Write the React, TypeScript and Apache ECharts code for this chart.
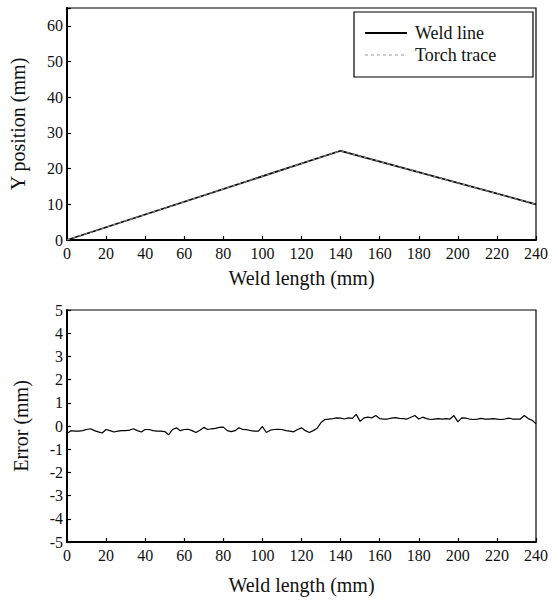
import React, { useEffect, useRef } from "react";
import * as echarts from "echarts";

// Top panel: weld line and torch trace (Y position vs weld length)
const weldLength = [0, 140, 240];
const weldLineY = [0, 25, 10];
const torchTraceY = [0, 25, 10];

// Bottom panel: tracking error vs weld length
const errorLength = [
  0, 2, 4, 6, 8, 10, 12, 14, 16, 18, 20, 22, 24, 26, 28, 30, 32, 34, 36, 38,
  40, 42, 44, 46, 48, 50, 52, 54, 56, 58, 60, 62, 64, 66, 68, 70, 72, 74, 76, 78,
  80, 82, 84, 86, 88, 90, 92, 94, 96, 98, 100, 102, 104, 106, 108, 110, 112, 114, 116, 118,
  120, 122, 124, 126, 128, 130, 132, 134, 136, 138, 140, 142, 144, 146, 148, 150, 152, 154, 156, 158,
  160, 162, 164, 166, 168, 170, 172, 174, 176, 178, 180, 182, 184, 186, 188, 190, 192, 194, 196, 198,
  200, 202, 204, 206, 208, 210, 212, 214, 216, 218, 220, 222, 224, 226, 228, 230, 232, 234, 236, 238, 240,
];
const errorValues = [
  -0.32, -0.2, -0.22, -0.22, -0.2, -0.15, -0.12, -0.2, -0.25, -0.3, -0.15, -0.2, -0.26, -0.22, -0.2, -0.2, -0.18, -0.12, -0.2, -0.26,
  -0.15, -0.15, -0.2, -0.22, -0.22, -0.24, -0.38, -0.15, -0.08, -0.2, -0.15, -0.14, -0.2, -0.28, -0.18, -0.06, -0.15, -0.12, -0.1, -0.06,
  -0.05, -0.2, -0.24, -0.2, -0.08, -0.15, -0.16, -0.2, -0.22, -0.22, -0.02, -0.28, -0.18, -0.15, -0.14, -0.15, -0.2, -0.22, -0.25, -0.15,
  -0.08, -0.2, -0.28, -0.2, -0.1, 0.15, 0.28, 0.3, 0.32, 0.35, 0.34, 0.3, 0.35, 0.33, 0.5, 0.2, 0.35, 0.38, 0.35, 0.45,
  0.32, 0.3, 0.3, 0.34, 0.36, 0.33, 0.32, 0.3, 0.38, 0.45, 0.3, 0.38, 0.32, 0.28, 0.3, 0.32, 0.3, 0.32, 0.3, 0.45,
  0.18, 0.35, 0.34, 0.3, 0.28, 0.3, 0.33, 0.3, 0.3, 0.32, 0.3, 0.28, 0.3, 0.34, 0.3, 0.3, 0.3, 0.45, 0.32, 0.25, 0.1,
];

const seriesNames = ["Weld line", "Torch trace"];

const SERIF = "Liberation Serif";
const tickFont = { fontFamily: SERIF, fontSize: 16, color: "#111" };
const nameFont = { fontFamily: SERIF, fontSize: 20, color: "#111" };

export default function App() {
  const ref = useRef<HTMLDivElement>(null);
  useEffect(() => {
    if (!ref.current) return;
    const chart = echarts.init(ref.current, undefined, { renderer: "svg" });
    const axisLine = { show: true, onZero: false, lineStyle: { color: "#000", width: 2 } };
    const axisTick = { show: true, inside: true, length: 4, lineStyle: { color: "#000", width: 1.2 } };
    const pair = (xs: number[], ys: number[]) => xs.map((x, i) => [x, ys[i]]);
    const weldStyle = { color: "#000", width: 1.8 };
    const torchStyle = { color: "#999", width: 1, type: [3, 3] };
    chart.setOption({
      animation: false,
      backgroundColor: "#fff",
      textStyle: { fontFamily: SERIF },
      grid: [
        { left: 67, right: 22, top: 8, height: 232, show: true, borderColor: "#000", borderWidth: 1.2 },
        { left: 67, right: 22, top: 310, bottom: 59, show: true, borderColor: "#000", borderWidth: 1.2 },
      ],
      graphic: [
        {
          type: "rect",
          shape: { x: 354, y: 12, width: 179, height: 65 },
          style: { fill: "#fff", stroke: "#000", lineWidth: 1.2 },
          z: 10,
        },
        {
          type: "line", z: 11,
          shape: { x1: 365, y1: 33, x2: 407, y2: 33 },
          style: { stroke: weldStyle.color, lineWidth: weldStyle.width },
        },
        {
          type: "text", z: 11, x: 415, y: 33,
          style: { text: seriesNames[0], fontFamily: SERIF, fontSize: 18, fill: "#111", verticalAlign: "middle" },
        },
        {
          type: "line", z: 11,
          shape: { x1: 365, y1: 55, x2: 407, y2: 55 },
          style: { stroke: torchStyle.color, lineWidth: torchStyle.width, lineDash: [3, 3] },
        },
        {
          type: "text", z: 11, x: 415, y: 55,
          style: { text: seriesNames[1], fontFamily: SERIF, fontSize: 18, fill: "#111", verticalAlign: "middle" },
        },
      ],
      xAxis: [
        {
          type: "value", gridIndex: 0, min: 0, max: 240, interval: 20,
          axisLine, axisTick, splitLine: { show: false },
          axisLabel: { ...tickFont, margin: 5 },
          name: "Weld length (mm)", nameLocation: "middle", nameGap: 28, nameTextStyle: nameFont,
        },
        {
          type: "value", gridIndex: 1, min: 0, max: 240, interval: 20,
          axisLine, axisTick, splitLine: { show: false },
          axisLabel: { ...tickFont, margin: 5 },
          name: "Weld length (mm)", nameLocation: "middle", nameGap: 33, nameTextStyle: nameFont,
        },
      ],
      yAxis: [
        {
          type: "value", gridIndex: 0, min: 0, max: 65, interval: 10,
          axisLine, axisTick, splitLine: { show: false },
          axisLabel: { ...tickFont, margin: 4, formatter: (v: number) => (v % 10 === 0 ? String(v) : "") },
          name: "Y position (mm)", nameLocation: "middle", nameGap: 39, nameTextStyle: nameFont,
        },
        {
          type: "value", gridIndex: 1, min: -5, max: 5, interval: 1,
          axisLine, axisTick, splitLine: { show: false },
          axisLabel: { ...tickFont, margin: 4 },
          name: "Error (mm)", nameLocation: "middle", nameGap: 36, nameTextStyle: nameFont,
        },
      ],
      series: [
        {
          name: seriesNames[0], type: "line", xAxisIndex: 0, yAxisIndex: 0,
          data: pair(weldLength, weldLineY), showSymbol: false, symbol: "none",
          lineStyle: weldStyle, itemStyle: { color: "#000" },
        },
        {
          name: seriesNames[1], type: "line", xAxisIndex: 0, yAxisIndex: 0,
          data: pair(weldLength, torchTraceY), showSymbol: false, symbol: "none",
          lineStyle: torchStyle, itemStyle: { color: "#999" },
        },
        {
          name: "Error", type: "line", xAxisIndex: 1, yAxisIndex: 1,
          data: pair(errorLength, errorValues), showSymbol: false, symbol: "none",
          lineStyle: { color: "#000", width: 1.2 }, itemStyle: { color: "#000" },
        },
      ],
    });
    return () => chart.dispose();
  }, []);
  return (
    <div
      ref={ref}
      style={{ position: "fixed", left: 0, top: 0, width: 558, height: 601, background: "#fff" }}
    />
  );
}
